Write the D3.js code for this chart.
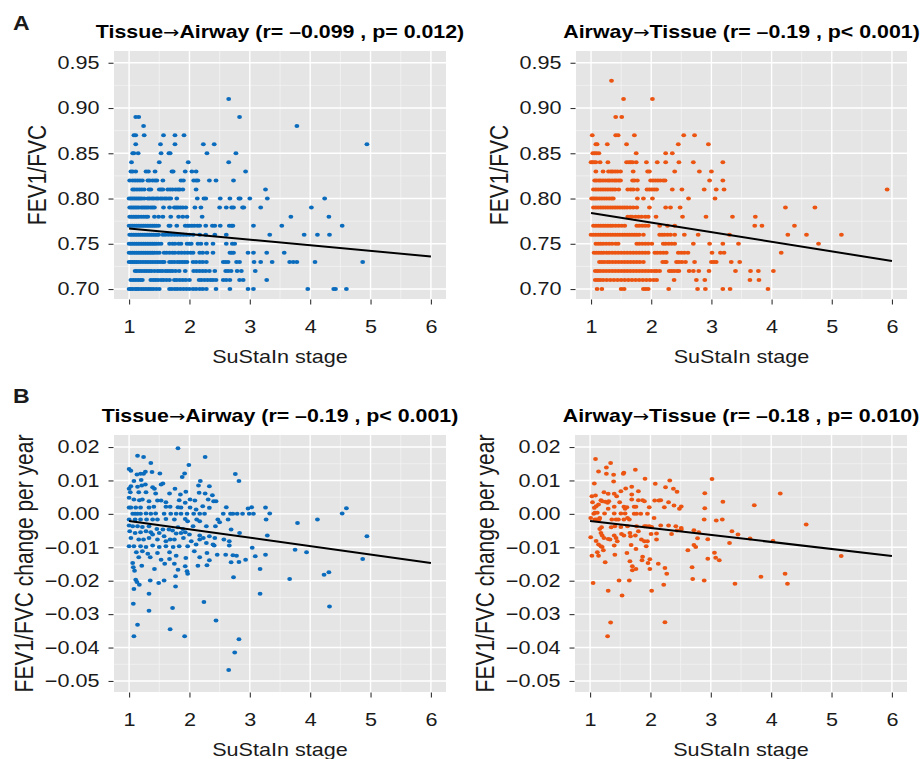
<!DOCTYPE html>
<html>
<head>
<meta charset="utf-8">
<script src="https://cdn.jsdelivr.net/npm/d3@7"></script>
<style>
  body { margin: 0; background: #fff; }
  svg { display: block; }
</style>
</head>
<body>
<div id="chart"></div>
<script>
// ---- data ----
var xTicks = [1, 2, 3, 4, 5, 6];
var fevTicks = [0.70, 0.75, 0.80, 0.85, 0.90, 0.95];
var changeTicks = [-0.05, -0.04, -0.03, -0.02, -0.01, 0.00, 0.01, 0.02];

// [left part, right part, stats]
var titles = [
  ["Tissue", "Airway", " (r= \u20130.099 , p= 0.012)"],
  ["Airway", "Tissue", " (r= \u20130.19 , p< 0.001)"],
  ["Tissue", "Airway", " (r= \u20130.19 , p< 0.001)"],
  ["Airway", "Tissue", " (r= \u20130.18 , p= 0.010)"]
];

// fitted lines, [stage, value] at both ends
var fitTA_fev = [[1, 0.767], [6, 0.736]];
var fitAT_fev = [[1, 0.784], [6, 0.731]];
var fitTA_chg = [[1, -0.0021], [6, -0.0147]];
var fitAT_chg = [[1, -0.0021], [6, -0.0126]];

// FEV1/FVC is recorded to 0.01, so points sit on rows: [level, [stages...]]
var taFevRows = [
  [0.91, [2.65]],
  [0.89, [1.11, 1.16, 2.83]],
  [0.88, [1.24, 3.78]],
  [0.87, [1.08, 1.11, 1.25, 1.57, 1.76, 1.91]],
  [0.86, [1.11, 1.52, 1.76, 2.23, 2.41, 4.94]],
  [0.85, [1.06, 1.08, 1.15, 1.53, 1.66, 1.68, 2.29, 2.77]],
  [0.84, [1.04, 1.5, 1.98, 2.65]],
  [0.83, [1.03, 1.06, 1.11, 1.28, 1.32, 1.43, 1.71, 1.73, 1.93, 2.04, 2.11, 2.93]],
  [0.82, [1.01, 1.06, 1.1, 1.14, 1.18, 1.22, 1.31, 1.34, 1.39, 1.43, 1.46, 1.56, 1.86, 1.9, 2.07, 2.11, 2.14, 2.33, 2.44, 2.73]],
  [0.81, [1.06, 1.09, 1.13, 1.17, 1.21, 1.25, 1.33, 1.36, 1.5, 1.53, 1.56, 1.64, 1.68, 1.72, 1.77, 1.81, 1.84, 1.89, 2.11, 3.26]],
  [0.80, [1.0, 1.03, 1.06, 1.09, 1.12, 1.15, 1.18, 1.21, 1.25, 1.31, 1.34, 1.38, 1.41, 1.45, 1.48, 1.52, 1.55, 1.59, 1.62, 1.66, 1.69, 1.79, 2.13, 2.24, 2.27, 2.51, 2.67, 2.82, 2.84, 3.0, 3.29, 4.24]],
  [0.79, [1.01, 1.04, 1.07, 1.1, 1.13, 1.16, 1.2, 1.23, 1.26, 1.29, 1.32, 1.36, 1.39, 1.42, 1.57, 1.67, 1.75, 1.78, 1.81, 1.85, 1.89, 1.94, 2.09, 2.19, 2.5, 2.61, 2.7, 2.73, 2.88, 2.9, 3.18, 4.02]],
  [0.78, [1.01, 1.04, 1.07, 1.1, 1.13, 1.16, 1.2, 1.24, 1.28, 1.31, 1.42, 1.49, 1.56, 1.69, 1.82, 1.89, 1.96, 2.21, 3.68, 4.31]],
  [0.77, [1.0, 1.03, 1.06, 1.09, 1.12, 1.15, 1.18, 1.21, 1.24, 1.27, 1.3, 1.33, 1.36, 1.39, 1.42, 1.45, 1.49, 1.66, 1.68, 1.79, 1.93, 1.97, 2.0, 2.04, 2.08, 2.13, 2.17, 2.27, 2.38, 2.42, 2.51, 2.66, 2.7, 2.72, 3.06, 3.53, 4.53]],
  [0.76, [1.01, 1.04, 1.07, 1.1, 1.13, 1.16, 1.19, 1.22, 1.25, 1.28, 1.31, 1.34, 1.37, 1.4, 1.43, 1.46, 1.49, 1.56, 1.6, 1.65, 1.7, 1.75, 1.8, 1.85, 1.9, 1.95, 2.0, 2.06, 2.17, 2.27, 2.42, 2.61, 3.33, 3.9, 4.12, 4.32]],
  [0.75, [1.0, 1.03, 1.06, 1.09, 1.12, 1.15, 1.18, 1.21, 1.24, 1.27, 1.3, 1.33, 1.36, 1.39, 1.42, 1.45, 1.49, 1.53, 1.67, 1.72, 1.76, 1.82, 1.86, 1.96, 2.0, 2.03, 2.14, 2.19, 2.28, 2.39, 2.61, 2.71, 2.75]],
  [0.74, [1.0, 1.03, 1.06, 1.09, 1.12, 1.15, 1.18, 1.21, 1.24, 1.27, 1.3, 1.33, 1.36, 1.39, 1.42, 1.46, 1.5, 1.58, 1.62, 1.67, 1.72, 1.76, 1.82, 1.87, 1.92, 1.97, 2.02, 2.06, 2.17, 2.22, 2.29, 2.39, 2.67, 2.7, 2.73, 2.97, 3.06, 3.28, 3.57]],
  [0.73, [1.0, 1.03, 1.06, 1.09, 1.12, 1.15, 1.19, 1.23, 1.27, 1.31, 1.35, 1.39, 1.43, 1.47, 1.51, 1.55, 1.58, 1.67, 1.71, 1.75, 1.8, 1.84, 1.88, 1.92, 1.96, 2.06, 2.11, 2.17, 2.22, 2.28, 2.56, 2.6, 2.64, 2.78, 2.83, 3.07, 3.18, 3.37, 3.66, 3.72, 3.78, 4.08, 4.87]],
  [0.72, [1.1, 1.13, 1.17, 1.21, 1.25, 1.29, 1.33, 1.37, 1.42, 1.47, 1.51, 1.55, 1.6, 1.64, 1.68, 1.72, 1.77, 1.83, 1.93, 2.07, 2.12, 2.17, 2.22, 2.27, 2.33, 2.42, 2.6, 2.64, 2.69, 2.79, 2.86, 3.09]],
  [0.71, [1.03, 1.07, 1.11, 1.15, 1.19, 1.22, 1.36, 1.4, 1.44, 1.48, 1.53, 1.57, 1.62, 1.67, 1.75, 1.79, 1.84, 1.89, 1.94, 2.0, 2.16, 2.2, 2.25, 2.3, 2.35, 2.39, 2.44, 2.56, 2.61, 2.67, 2.83, 2.89, 3.28]],
  [0.70, [1.0, 1.03, 1.06, 1.1, 1.13, 1.16, 1.2, 1.24, 1.28, 1.32, 1.36, 1.4, 1.45, 1.5, 1.67, 1.71, 1.76, 1.8, 1.85, 1.9, 1.95, 2.0, 2.06, 2.11, 2.17, 2.22, 2.28, 2.44, 2.67, 2.97, 3.06, 3.96, 4.39, 4.42, 4.6]]
];

var atFevRows = [
  [0.93, [1.34]],
  [0.91, [1.54, 2.02]],
  [0.89, [1.41, 1.51]],
  [0.87, [1.02, 1.41, 1.45, 1.72, 2.54, 2.72]],
  [0.86, [1.08, 1.1, 1.27, 1.59, 2.45, 2.95]],
  [0.85, [1.03, 1.06, 1.09, 1.13, 1.75, 2.24, 2.35]],
  [0.84, [1.0, 1.02, 1.05, 1.08, 1.15, 1.28, 1.59, 1.63, 1.66, 1.69, 1.75, 1.92, 2.1, 2.24, 2.46, 2.7, 3.19]],
  [0.83, [1.08, 1.2, 1.29, 1.33, 1.36, 1.4, 1.44, 1.49, 1.7, 1.94, 1.97, 2.39, 2.8, 3.0]],
  [0.82, [1.06, 1.09, 1.13, 1.16, 1.2, 1.24, 1.28, 1.31, 1.35, 1.39, 1.42, 1.46, 1.49, 1.69, 1.72, 1.77, 1.99, 2.03, 2.07, 2.11, 2.15, 2.2, 2.23, 2.97, 3.19]],
  [0.81, [1.04, 1.08, 1.12, 1.16, 1.2, 1.24, 1.28, 1.32, 1.36, 1.4, 1.46, 1.61, 1.66, 1.7, 1.77, 1.93, 1.97, 2.01, 2.05, 2.09, 2.35, 2.51, 2.88, 3.08, 3.21, 5.92]],
  [0.80, [1.01, 1.04, 1.07, 1.1, 1.14, 1.18, 1.22, 1.26, 1.3, 1.34, 1.37, 1.77, 1.87, 2.02, 2.62, 3.06]],
  [0.79, [1.04, 1.08, 1.12, 1.16, 1.2, 1.24, 1.28, 1.32, 1.36, 1.4, 1.44, 1.48, 1.52, 1.56, 1.6, 1.65, 1.7, 1.76, 1.97, 2.24, 2.32, 2.48, 4.23, 4.72]],
  [0.78, [1.61, 1.65, 1.68, 1.74, 1.79, 1.84, 1.9, 1.95, 2.08, 2.52, 2.91, 3.35, 3.73]],
  [0.77, [1.04, 1.08, 1.12, 1.16, 1.2, 1.24, 1.28, 1.32, 1.36, 1.41, 1.46, 1.51, 1.56, 1.76, 1.8, 1.85, 1.9, 1.95, 2.14, 2.27, 2.39, 3.72, 3.84, 4.38]],
  [0.76, [1.0, 1.04, 1.08, 1.12, 1.16, 1.2, 1.24, 1.28, 1.32, 1.36, 1.4, 1.44, 1.48, 1.52, 1.56, 1.6, 1.64, 1.68, 1.72, 1.76, 1.8, 1.87, 2.14, 2.18, 2.22, 2.27, 2.32, 2.39, 2.55, 2.78, 3.3, 4.27, 4.58, 5.16]],
  [0.75, [1.08, 1.12, 1.16, 1.2, 1.25, 1.3, 1.35, 1.41, 1.45, 1.76, 1.8, 1.85, 1.9, 1.95, 2.01, 2.2, 2.24, 2.29, 2.34, 2.39, 2.7, 2.97, 3.19, 3.45, 4.78]],
  [0.74, [1.05, 1.09, 1.13, 1.17, 1.21, 1.26, 1.3, 1.35, 1.4, 1.45, 1.5, 1.55, 1.6, 1.65, 1.7, 1.75, 1.8, 1.85, 1.9, 1.95, 2.06, 2.1, 2.15, 2.2, 2.25, 2.45, 2.5, 2.55, 2.61, 3.01, 3.15, 3.21, 4.16]],
  [0.73, [1.14, 1.18, 1.22, 1.27, 1.31, 1.36, 1.41, 1.46, 1.51, 1.56, 1.61, 1.66, 1.71, 1.76, 1.81, 1.87, 2.19, 2.23, 2.25, 2.42, 2.46, 2.51, 2.57, 2.72, 3.0, 3.04, 3.08, 3.33, 3.47]],
  [0.72, [1.07, 1.11, 1.15, 1.2, 1.25, 1.3, 1.35, 1.4, 1.45, 1.5, 1.55, 1.6, 1.65, 1.7, 1.75, 1.8, 1.85, 1.9, 1.95, 2.0, 2.05, 2.09, 2.14, 2.3, 2.34, 2.38, 2.43, 2.46, 2.63, 2.7, 2.79, 2.96, 3.4, 3.65, 3.78, 4.03]],
  [0.71, [1.07, 1.11, 1.15, 1.2, 1.26, 1.32, 1.38, 1.44, 1.5, 1.56, 1.62, 1.68, 1.74, 1.8, 1.86, 1.92, 1.98, 2.04, 2.09, 2.38, 2.75, 2.89, 3.64, 3.79]],
  [0.70, [1.1, 1.18, 1.5, 1.55, 1.87, 1.91, 1.95, 2.29, 2.77, 2.9, 3.19, 3.31, 3.94]]
];

// FEV1/FVC change per year: [stage, change]
var taChgPts = [
  [1.81, 0.0196], [1.14, 0.0174], [1.24, 0.0170], [2.26, 0.0170], [1.36, 0.0152], [1.99, 0.0146],
  [1.0, 0.0134], [1.03, 0.0129], [1.51, 0.0121], [1.13, 0.0118], [1.19, 0.0120], [1.24, 0.0120],
  [1.27, 0.0126], [1.38, 0.0125], [1.92, 0.0121], [1.88, 0.0110], [2.76, 0.0119], [2.82, 0.0098],
  [1.08, 0.0098], [1.2, 0.0101], [2.18, 0.0098], [1.03, 0.0083], [1.0, 0.0075], [1.14, 0.0081],
  [1.21, 0.0085], [1.27, 0.0088], [1.39, 0.0080], [1.42, 0.0075], [1.53, 0.0088], [1.56, 0.0091],
  [1.76, 0.0075], [1.94, 0.0066], [2.15, 0.0085], [2.33, 0.0083], [1.02, 0.0065], [1.16, 0.0065],
  [1.28, 0.0065], [1.44, 0.0061], [1.67, 0.0061], [1.85, 0.0058], [2.16, 0.0063], [2.26, 0.0061],
  [2.38, 0.0056], [2.44, 0.0038], [2.31, 0.0043], [2.4, 0.0038], [1.0, 0.0048], [1.08, 0.0043],
  [1.17, 0.0041], [1.22, 0.0043], [1.33, 0.0038], [1.47, 0.0040], [1.53, 0.0040], [1.61, 0.0035],
  [1.83, 0.0041], [1.93, 0.0033], [2.01, 0.0043], [2.09, 0.0040], [2.11, 0.0013], [2.22, 0.0023],
  [2.33, 0.0018], [2.61, 0.0020], [2.97, 0.0016], [3.03, 0.0020], [3.26, 0.0019], [1.0, 0.0019],
  [1.03, 0.0019], [1.11, 0.0019], [1.19, 0.0019], [1.33, 0.0019], [1.41, 0.0021], [1.61, 0.0021],
  [1.68, 0.0021], [1.81, 0.0020], [1.86, 0.0019], [2.01, 0.0019],
  [1.06, 0.0], [1.1, 0.0], [1.14, 0.0], [1.19, 0.0], [1.28, 0.0001], [1.36, 0.0], [1.44, 0.0001],
  [1.58, 0.0], [1.69, 0.0], [1.78, 0.0], [1.86, 0.0], [1.96, 0.0], [2.07, 0.0], [2.17, 0.0],
  [2.25, 0.0], [2.56, 0.0], [2.68, 0.0], [2.72, 0.0], [2.79, 0.0], [2.88, 0.0], [2.99, 0.0],
  [3.06, 0.0], [3.33, 0.0001], [4.53, 0.0001], [4.6, 0.0017],
  [1.0, -0.0017], [1.1, -0.0017], [1.19, -0.0017], [1.29, -0.0017], [1.39, -0.0017], [1.47, -0.0017],
  [1.61, -0.0015], [1.75, -0.0017], [1.93, -0.0015], [1.97, -0.0022], [2.12, -0.0017], [2.17, -0.0022],
  [2.47, -0.0017], [2.64, -0.0017], [3.27, -0.0017], [3.79, -0.0027], [4.12, -0.0017],
  [1.0, -0.0035], [1.06, -0.0037], [1.14, -0.0037], [1.22, -0.0039], [1.33, -0.0037], [1.46, -0.0045],
  [1.56, -0.0047], [1.66, -0.0047], [1.72, -0.0050], [1.81, -0.0040], [1.89, -0.0045], [2.06, -0.0037],
  [2.28, -0.0037], [2.43, -0.0037], [2.5, -0.0025], [2.69, -0.0047], [2.83, -0.0057], [3.29, -0.0065],
  [4.94, -0.0067],
  [1.01, -0.0052], [1.1, -0.0057], [1.19, -0.0055], [1.28, -0.0052], [1.36, -0.0055], [1.39, -0.0062],
  [1.5, -0.0057], [1.58, -0.0067], [1.78, -0.0059], [1.86, -0.0057], [1.93, -0.0055], [2.0, -0.0062],
  [2.17, -0.0065], [2.23, -0.0072], [2.33, -0.0067], [2.42, -0.0072], [2.57, -0.0077], [2.66, -0.0082],
  [1.03, -0.0072], [1.16, -0.0077], [1.24, -0.0077], [1.33, -0.0072], [1.47, -0.0077], [1.61, -0.0082],
  [1.68, -0.0077], [1.75, -0.0077], [1.9, -0.0072], [2.03, -0.0082], [2.17, -0.0077], [2.28, -0.0087],
  [2.39, -0.0092],
  [1.0, -0.0097], [1.08, -0.0097], [1.19, -0.0097], [1.28, -0.0099], [1.39, -0.0095], [1.5, -0.0099],
  [1.61, -0.0097], [1.73, -0.0099], [1.83, -0.0097], [1.97, -0.0097], [2.11, -0.0092], [2.41, -0.0095],
  [2.66, -0.0095], [3.04, -0.0101],
  [1.12, -0.0115], [1.22, -0.0112], [1.31, -0.0119], [1.47, -0.0117], [1.67, -0.0115], [1.78, -0.0125],
  [2.08, -0.0112], [2.29, -0.0117], [2.46, -0.0122], [2.6, -0.0122], [2.72, -0.0124], [2.78, -0.0125],
  [3.09, -0.0127], [3.26, -0.0122], [3.75, -0.0107], [3.94, -0.0115],
  [1.16, -0.0130], [1.35, -0.0130], [1.53, -0.0137], [1.67, -0.0135], [1.94, -0.0132], [2.17, -0.0130],
  [2.33, -0.0139], [2.69, -0.0145], [2.82, -0.0144], [2.93, -0.0137], [4.87, -0.0135],
  [1.06, -0.0147], [1.21, -0.0155], [1.42, -0.0165], [1.59, -0.0149], [1.75, -0.0149], [1.81, -0.0167],
  [1.93, -0.0157], [1.96, -0.0172], [1.97, -0.0179], [2.14, -0.0155], [2.29, -0.0154], [2.73, -0.0190],
  [3.17, -0.0165], [3.66, -0.0195], [4.23, -0.0182], [4.31, -0.0175],
  [1.07, -0.0160], [1.09, -0.0170], [1.11, -0.0197], [1.13, -0.0204], [1.17, -0.0212], [1.35, -0.0199],
  [1.49, -0.0207], [1.58, -0.0199], [1.77, -0.0187], [1.77, -0.0217], [1.08, -0.0225], [1.33, -0.0239],
  [3.17, -0.0239], [2.24, -0.0264], [1.07, -0.0269], [1.72, -0.0282], [4.32, -0.0277], [1.33, -0.0290],
  [2.44, -0.0319], [1.14, -0.0332], [1.68, -0.0345], [1.08, -0.0366], [1.92, -0.0366], [2.82, -0.0375],
  [2.75, -0.0415], [2.65, -0.0467]
];

var atChgPts = [
  [1.09, 0.0164], [1.34, 0.0152], [1.14, 0.0127], [1.27, 0.0139], [1.27, 0.0120], [1.39, 0.0117],
  [1.56, 0.0123], [1.55, 0.0120], [1.75, 0.0132], [1.91, 0.0105], [3.02, 0.0104], [1.07, 0.0091],
  [1.39, 0.0097], [2.08, 0.0090], [2.32, 0.0100], [2.25, 0.0080], [2.38, 0.0075], [2.44, 0.0066],
  [1.03, 0.0053], [1.09, 0.0055], [1.23, 0.0065], [1.3, 0.0060], [1.4, 0.0060], [1.44, 0.0053],
  [1.51, 0.0068], [1.59, 0.0076], [1.69, 0.0081], [1.69, 0.0058], [1.8, 0.0068], [2.9, 0.0062],
  [4.15, 0.0061], [1.04, 0.0035], [1.07, 0.0018], [1.1, 0.0023], [1.14, 0.0028], [1.18, 0.0041],
  [1.2, 0.0038], [1.25, 0.0036], [1.29, 0.0033], [1.31, 0.0038], [1.4, 0.0021], [1.49, 0.0035],
  [1.56, 0.0021], [1.58, 0.0015], [1.61, 0.0020], [1.69, 0.0043], [1.73, 0.0021], [1.76, 0.0021],
  [1.8, 0.0041], [1.87, 0.0041], [1.9, 0.0038], [1.98, 0.0020], [2.07, 0.0040], [2.14, 0.0040],
  [2.17, 0.0041], [2.23, 0.0020], [2.3, 0.0035], [2.39, 0.0025], [2.48, 0.0015], [2.51, 0.0022],
  [2.9, 0.0017], [3.2, 0.0036], [3.72, 0.0026],
  [1.01, -0.0012], [1.06, 0.0], [1.08, 0.0003], [1.12, 0.0003], [1.16, -0.0012], [1.24, 0.0001],
  [1.3, 0.0015], [1.36, -0.0017], [1.4, 0.0001], [1.43, -0.0017], [1.47, -0.0017], [1.51, 0.0001],
  [1.56, -0.0017], [1.58, 0.0001], [1.62, -0.0012], [1.65, -0.0017], [1.73, 0.0], [1.77, 0.0],
  [1.84, 0.0], [1.95, 0.0], [2.06, -0.0012], [2.89, -0.0017], [3.09, -0.0020], [3.19, -0.0017],
  [4.58, -0.0032], [1.08, -0.0017], [1.11, -0.0017], [1.15, -0.0017],
  [1.19, -0.0040], [1.35, -0.0040], [1.41, -0.0037], [1.51, -0.0039], [1.62, -0.0037], [1.77, -0.0037],
  [1.9, -0.0037], [1.93, -0.0037], [1.98, -0.0037], [2.02, -0.0039], [2.17, -0.0035], [2.3, -0.0035],
  [2.42, -0.0037], [2.51, -0.0042], [2.72, -0.0049], [2.8, -0.0055], [3.35, -0.0052], [3.45, -0.0062],
  [3.65, -0.0074], [4.03, -0.0081],
  [1.01, -0.0070], [1.16, -0.0045], [1.18, -0.0057], [1.2, -0.0065], [1.23, -0.0072], [1.3, -0.0075],
  [1.33, -0.0077], [1.4, -0.0065], [1.43, -0.0072], [1.45, -0.0082], [1.52, -0.0060], [1.56, -0.0065],
  [1.66, -0.0057], [1.67, -0.0067], [1.75, -0.0065], [1.8, -0.0052], [1.85, -0.0077], [1.9, -0.0082],
  [1.95, -0.0082], [2.01, -0.0060], [2.1, -0.0059], [2.1, -0.0077], [2.35, -0.0060], [2.44, -0.0050],
  [2.51, -0.0047], [2.78, -0.0073], [2.95, -0.0076], [3.31, -0.0087],
  [1.1, -0.0081], [1.14, -0.0092], [1.18, -0.0097], [1.2, -0.0099], [1.4, -0.0095], [1.68, -0.0093],
  [1.93, -0.0097], [1.76, -0.0105], [2.72, -0.0093], [2.75, -0.0099], [2.62, -0.0109],
  [1.03, -0.0125], [1.14, -0.0125], [1.12, -0.0115], [1.22, -0.0109], [1.41, -0.0122], [1.61, -0.0117],
  [1.87, -0.0128], [1.86, -0.0139], [1.99, -0.0136], [2.13, -0.0149], [2.24, -0.0162], [2.27, -0.0179],
  [1.25, -0.0145], [1.66, -0.0142], [1.7, -0.0157], [1.7, -0.0169], [1.76, -0.0165], [1.96, -0.0147],
  [1.99, -0.0165], [2.69, -0.0160], [3.06, -0.0116], [3.08, -0.0131], [3.14, -0.0139], [2.95, -0.0134],
  [5.16, -0.0126],
  [1.05, -0.0207], [1.48, -0.0199], [1.65, -0.0199], [1.3, -0.0230], [1.53, -0.0244], [2.02, -0.0230],
  [2.22, -0.0212], [2.7, -0.0195], [2.89, -0.0199], [3.4, -0.0209], [3.83, -0.0188], [4.23, -0.0179],
  [4.27, -0.0209], [1.34, -0.0325], [2.24, -0.0324], [1.29, -0.0366]
];

// ---- drawing ----
var width = 924, height = 759;
var font = "'Liberation Sans', Arial, Helvetica, sans-serif";
var blue = "#0b6cbd", orange = "#ec5411";
var sx = 1.2; // the figure is a little wider than tall, text included

var svg = d3.select('#chart').append('svg')
  .attr('width', width).attr('height', height)
  .attr('font-family', font);

function label(x, y, str, size, anchor, weight, stretch) {
  return svg.append('text')
    .attr('transform', 'translate(' + x + ',' + y + ') scale(' + (stretch || sx) + ',1)')
    .attr('text-anchor', anchor || 'middle')
    .attr('font-size', size)
    .attr('font-weight', weight || 'normal')
    .attr('fill', '#1a1a1a')
    .text(str);
}

function rowsToPoints(rows) {
  return rows.flatMap(function(r) { return r[1].map(function(s) { return [s, r[0]]; }); });
}

function mids(ticks) {
  return d3.pairs(ticks).map(function(p) { return (p[0] + p[1]) / 2; });
}

function drawPanel(p) {
  var x = d3.scaleLinear().domain([0.75, 6.25]).range([p.left, p.left + p.w]);
  var y = d3.scaleLinear().domain(p.yDomain).range([p.top + p.h, p.top]);
  var g = svg.append('g');

  g.append('rect')
    .attr('x', p.left).attr('y', p.top)
    .attr('width', p.w).attr('height', p.h)
    .attr('fill', '#e5e5e5');

  // minor then major grid
  g.selectAll('.vmin').data(mids(xTicks)).enter().append('line')
    .attr('x1', x).attr('x2', x).attr('y1', p.top).attr('y2', p.top + p.h)
    .attr('stroke', '#f5f5f5').attr('stroke-width', 0.7);
  g.selectAll('.hmin').data(mids(p.yTicks)).enter().append('line')
    .attr('y1', y).attr('y2', y).attr('x1', p.left).attr('x2', p.left + p.w)
    .attr('stroke', '#f5f5f5').attr('stroke-width', 0.7);
  g.selectAll('.vmaj').data(xTicks).enter().append('line')
    .attr('x1', x).attr('x2', x).attr('y1', p.top).attr('y2', p.top + p.h)
    .attr('stroke', '#fff').attr('stroke-width', 1.4);
  g.selectAll('.hmaj').data(p.yTicks).enter().append('line')
    .attr('y1', y).attr('y2', y).attr('x1', p.left).attr('x2', p.left + p.w)
    .attr('stroke', '#fff').attr('stroke-width', 1.4);

  g.selectAll('ellipse').data(p.points).enter().append('ellipse')
    .attr('cx', function(d) { return x(d[0]); })
    .attr('cy', function(d) { return y(d[1]); })
    .attr('rx', 2.4).attr('ry', 2.0)
    .attr('fill', p.color);

  g.append('path')
    .datum(p.fit)
    .attr('d', d3.line().x(function(d) { return x(d[0]); }).y(function(d) { return y(d[1]); }))
    .attr('fill', 'none').attr('stroke', '#000').attr('stroke-width', 2);

  // axes: d3 draws the ticks, labels are stretched like the rest of the text
  var ya = g.append('g')
    .attr('transform', 'translate(' + (p.left - 0.5) + ',0)')
    .call(d3.axisLeft(y).tickValues(p.yTicks).tickSize(5).tickFormat(d3.format('.2f')));
  var xa = g.append('g')
    .attr('transform', 'translate(0,' + (p.top + p.h + 0.5) + ')')
    .call(d3.axisBottom(x).tickValues(xTicks).tickSize(5).tickFormat(d3.format('d')));
  [ya, xa].forEach(function(a) {
    a.select('.domain').remove();
    a.attr('font-size', 18).attr('font-family', font);
    a.selectAll('.tick line').attr('stroke', '#333').attr('stroke-width', 1.1);
    a.selectAll('.tick text').attr('fill', '#1a1a1a').attr('font-size', 18);
  });
  ya.selectAll('.tick text').attr('x', 0)
    .attr('transform', 'translate(-14,0) scale(' + sx + ',1)');
  xa.selectAll('.tick text').attr('y', 0).attr('dy', 0)
    .attr('transform', 'translate(0,33) scale(' + sx + ',1)');

  // title with a DejaVu arrow, which is full width unlike the Liberation one
  var t = svg.append('text')
    .attr('transform', 'translate(' + (p.left + p.w / 2) + ',' + p.titleY + ') scale(1.22,1)')
    .attr('text-anchor', 'middle')
    .attr('font-size', 17.5).attr('font-weight', 'bold').attr('fill', '#000');
  t.append('tspan').text(p.title[0]);
  t.append('tspan').attr('font-family', "'DejaVu Sans'").attr('font-weight', 'normal')
    .attr('font-size', 16).text('\u2192');
  t.append('tspan').text(p.title[1] + p.title[2]);

  label(p.left + p.w / 2, p.top + p.h + 64, 'SuStaIn stage', 18);
  svg.append('text')
    .attr('transform', 'translate(' + p.ylabX + ',' + (p.top + p.h / 2) + ') scale(' + sx + ',1) rotate(-90)')
    .attr('text-anchor', 'middle')
    .attr('font-size', 21)
    .attr('fill', '#1a1a1a')
    .text(p.ylab);
}

var fevDomain = [0.689, 0.963];
var chgDomain = [-0.0533, 0.0236];

drawPanel({ left: 114, top: 51, w: 332, h: 248, yDomain: fevDomain, yTicks: fevTicks,
  points: rowsToPoints(taFevRows), fit: fitTA_fev, color: blue,
  title: titles[0], titleY: 38, ylab: 'FEV1/FVC', ylabX: 46 });
drawPanel({ left: 576, top: 51, w: 331, h: 248, yDomain: fevDomain, yTicks: fevTicks,
  points: rowsToPoints(atFevRows), fit: fitAT_fev, color: orange,
  title: titles[1], titleY: 38, ylab: 'FEV1/FVC', ylabX: 508 });
drawPanel({ left: 114, top: 435, w: 332, h: 257, yDomain: chgDomain, yTicks: changeTicks,
  points: taChgPts, fit: fitTA_chg, color: blue,
  title: titles[2], titleY: 422, ylab: 'FEV1/FVC change per year', ylabX: 33 });
drawPanel({ left: 575, top: 435, w: 332, h: 257, yDomain: chgDomain, yTicks: changeTicks,
  points: atChgPts, fit: fitAT_chg, color: orange,
  title: titles[3], titleY: 422, ylab: 'FEV1/FVC change per year', ylabX: 494 });

label(13, 30, 'A', 21, 'start', 'bold', 1.1);
label(13, 403, 'B', 21, 'start', 'bold', 1.1);
</script>
</body>
</html>
